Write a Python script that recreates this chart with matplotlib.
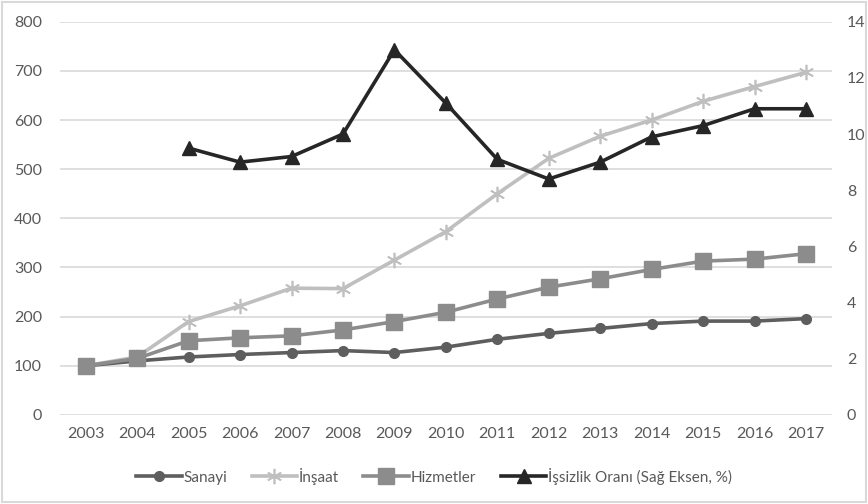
"""
Sektörel endeksler (2003=100) ve işsizlik oranı, çift eksenli çizgi grafik.
"""

import matplotlib
matplotlib.use("Agg")
import matplotlib.pyplot as plt
from matplotlib.patches import Rectangle

# ---------------------------------------------------------------------------
# Data
# ---------------------------------------------------------------------------

years = [str(y) for y in range(2003, 2018)]

sanayi = [100, 110, 118, 123, 127, 131, 127, 138, 154, 166, 176, 186, 191, 191, 196]
insaat = [100, 118, 190, 222, 258, 257, 315, 373, 450, 522, 567, 600, 638, 668, 697]
hizmetler = [100, 115, 151, 157, 161, 173, 190, 209, 236, 260, 277, 296, 313, 317, 328]

# unemployment starts in 2005
issizlik_years = years[2:]
issizlik = [9.5, 9.0, 9.2, 10.0, 13.0, 11.1, 9.1, 8.4, 9.0, 9.9, 10.3, 10.9, 10.9]

left_ticks = list(range(0, 900, 100))
right_ticks = list(range(0, 16, 2))

# ---------------------------------------------------------------------------
# Style
# ---------------------------------------------------------------------------

plt.rcParams["font.family"] = ["Lato", "DejaVu Sans"]
TEXT = "#595959"
GRID = "#d9d9d9"

C_SANAYI = "#5e5e5e"
C_INSAAT = "#bfbfbf"
C_HIZMET = "#8c8c8c"
C_ISSIZ = "#262626"

fig = plt.figure(figsize=(8.68, 5.04), dpi=100)
ax = fig.add_axes([0.0691, 0.1766, 0.8891, 0.7804])

x = list(range(len(years)))
x_iss = [years.index(y) for y in issizlik_years]

l1, = ax.plot(x, sanayi, color=C_SANAYI, lw=2.6, marker="o", ms=7,
              label="Sanayi", zorder=3)
l2, = ax.plot(x, insaat, color=C_INSAAT, lw=2.6, marker=(6, 2, 0), ms=11,
              mew=1.2, label="İnşaat", zorder=3)
l3, = ax.plot(x, hizmetler, color=C_HIZMET, lw=2.6, marker="s", ms=11,
              label="Hizmetler", zorder=4)

ax.set_xlim(-0.5, len(years) - 0.5)
ax.set_ylim(0, 800)
ax.set_yticks(left_ticks)
ax.set_xticks(x)
ax.set_xticklabels(years)
ax.grid(axis="y", color=GRID, lw=1.2)
ax.set_axisbelow(True)

ax2 = ax.twinx()
l4, = ax2.plot(x_iss, issizlik, color=C_ISSIZ, lw=2.6, marker="^", ms=10,
               label="İşsizlik Oranı (Sağ Eksen, %)", zorder=5)
ax2.set_ylim(0, 14)
ax2.set_yticks(right_ticks)

for a in (ax, ax2):
    for s in a.spines.values():
        s.set_visible(False)
    a.tick_params(length=0, labelsize=11.5, labelcolor=TEXT)
ax.tick_params(axis="x", pad=9)
ax.tick_params(axis="y", pad=13)
ax2.tick_params(axis="y", pad=11)

fig.legend(handles=[l1, l2, l3, l4], loc="center", bbox_to_anchor=(0.5, 0.055),
           ncol=4, frameon=False, fontsize=11, labelcolor=TEXT,
           handlelength=3.0, handletextpad=0.1, columnspacing=1.6)

# chart border
fig.patches.append(Rectangle((0.002, 0.003), 0.996, 0.994, transform=fig.transFigure,
                             fill=False, edgecolor=GRID, lw=1.5))

fig.savefig("out.png", dpi=100)
